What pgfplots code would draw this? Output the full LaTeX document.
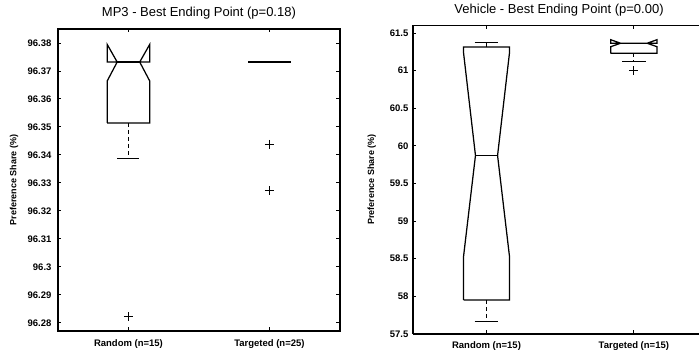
\documentclass[border=0pt]{standalone}
\usepackage{pgfplots}
\pgfplotsset{compat=1.18}
\usepackage{fontspec}
\setmainfont{Liberation Sans}

\begin{document}
\begin{tikzpicture}
\pgfplotsset{
  myaxis/.style={
    scale only axis,
    anchor=south west,
    xmin=0.5,
    xtick={1,2},
    tick align=inside,
    axis line style={line width=1.5pt},
    major tick style={line width=0.9pt, black},
    major tick length=3.5pt,
    tick label style={font=\fontsize{9.5}{11}\selectfont\bfseries},
    /pgf/number format/assume math mode=true,
    title style={font=\fontsize{13}{15}\selectfont, at={(axis description cs:0.5,1)}, anchor=south, yshift=0pt},
    clip=false,
  },
  boxl/.style={black, line width=1.25pt, line join=miter},
  wh/.style={black, line width=1.25pt, dash pattern=on 4pt off 3pt},
  outl/.style={only marks, mark=+, mark size=4.5pt, black, mark options={line width=1pt, solid}},
}
\path (0,0) rectangle (700pt,354pt);

% ---------------- left panel ----------------
\begin{axis}[myaxis, at={(58pt,23pt)}, width=282pt, height=302pt, xmax=2.5,
  ymin=96.2771, ymax=96.385,
  ytick={96.28,96.29,96.30,96.31,96.32,96.33,96.34,96.35,96.36,96.37,96.38},
  yticklabels={96.28,96.29,96.3,96.31,96.32,96.33,96.34,96.35,96.36,96.37,96.38},
  xticklabels={Random (n=15),Targeted (n=25)},
  title={MP3 - Best Ending Point (p=0.18)},
  every axis y label/.style={at={(axis description cs:-0.156,0.5)},rotate=90,anchor=center,font=\fontsize{9}{11}\selectfont\bfseries},
  ylabel={Preference Share (\%)},
  yticklabel style={xshift=-3pt}, xticklabel style={yshift=-5pt}]
  % Random
  \addplot[boxl] coordinates {(0.849,96.3514) (0.849,96.3664) (0.92,96.3732) (0.849,96.3795) (0.849,96.3732) (1.151,96.3732) (1.151,96.3795) (1.08,96.3732) (1.151,96.3664) (1.151,96.3514) (0.849,96.3514)};
  \addplot[boxl] coordinates {(0.92,96.3732) (1.08,96.3732)};
  \addplot[wh] coordinates {(1,96.3514) (1,96.3387)};
  \addplot[boxl] coordinates {(0.922,96.3387) (1.078,96.3387)};
  \addplot[outl] coordinates {(1,96.2822)};
  % Targeted
  \addplot[boxl] coordinates {(1.85,96.3732) (2.15,96.3732)};
  \addplot[outl] coordinates {(2,96.3438) (2,96.3271)};
\end{axis}

% ---------------- right panel (cut at the right edge) ----------------
\begin{axis}[myaxis, at={(413pt,20pt)}, width=286.5pt, height=308.5pt, xmax=2.444,
  axis x line*=box, axis y line*=left,
  ymin=57.5, ymax=61.6,
  ytick={57.5,58,58.5,59,59.5,60,60.5,61,61.5},
  yticklabels={57.5,58,58.5,59,59.5,60,60.5,61,61.5},
  xticklabels={Random (n=15),Targeted (n=15)},
  title={Vehicle - Best Ending Point (p=0.00)},
  title style={xshift=3pt},
  every axis y label/.style={at={(axis description cs:-0.143,0.5)},rotate=90,anchor=center,font=\fontsize{9}{11}\selectfont\bfseries},
  ylabel={Preference Share (\%)},
  yticklabel style={xshift=-1pt}, xticklabel style={yshift=-4pt}]
  % Random
  \addplot[boxl] coordinates {(0.844,57.952) (0.844,58.528) (0.925,59.872) (0.844,61.238) (0.844,61.314) (1.156,61.314) (1.156,61.238) (1.075,59.872) (1.156,58.528) (1.156,57.952) (0.844,57.952)};
  \addplot[boxl] coordinates {(0.925,59.872) (1.075,59.872)};
  \addplot[wh] coordinates {(1,61.314) (1,61.378)};
  \addplot[boxl] coordinates {(0.92,61.378) (1.08,61.378)};
  \addplot[wh] coordinates {(1,57.952) (1,57.664)};
  \addplot[boxl] coordinates {(0.92,57.664) (1.08,57.664)};
  % Targeted
  \addplot[boxl] coordinates {(1.843,61.231) (1.843,61.318) (1.91,61.364) (1.843,61.411) (1.843,61.364) (2.157,61.364) (2.157,61.411) (2.09,61.364) (2.157,61.318) (2.157,61.231) (1.843,61.231)};
  \addplot[boxl] coordinates {(1.91,61.364) (2.09,61.364)};
  \addplot[wh] coordinates {(2,61.231) (2,61.122)};
  \addplot[boxl] coordinates {(1.92,61.122) (2.08,61.122)};
  \addplot[outl] coordinates {(2,61.0)};
\end{axis}
\end{tikzpicture}
\end{document}
